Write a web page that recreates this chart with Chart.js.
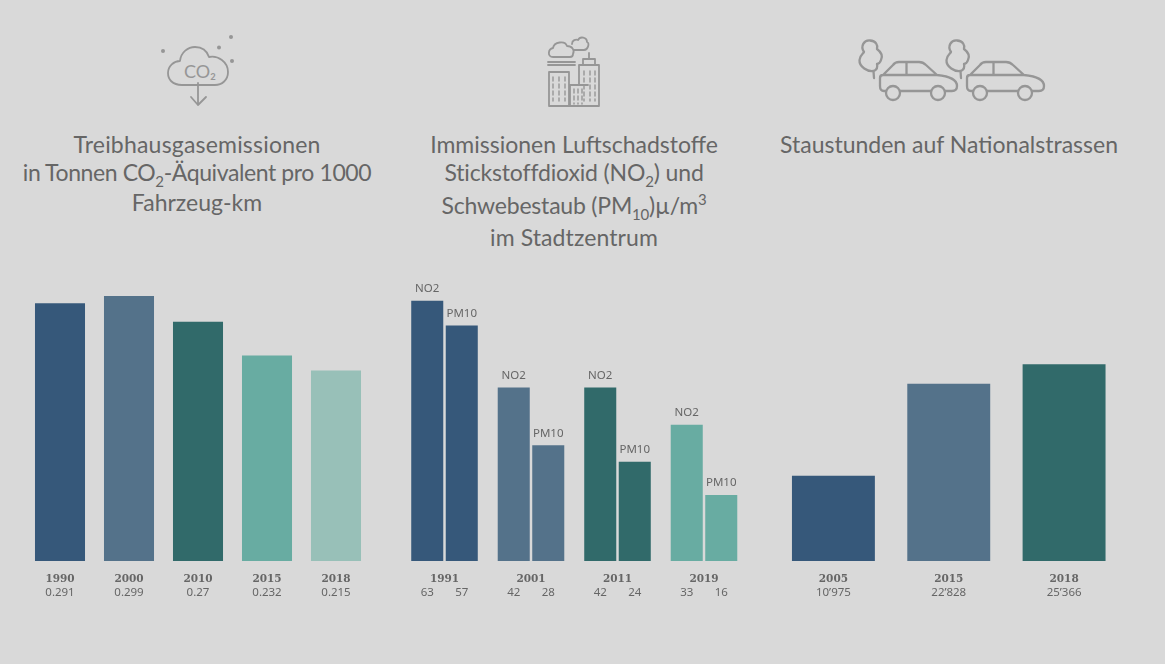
<!DOCTYPE html>
<html lang="de">
<head>
<meta charset="utf-8">
<title>Treibhausgase, Luftschadstoffe, Staustunden</title>
<script src="https://cdn.jsdelivr.net/npm/chart.js@4"></script>
<style>
  html, body { margin: 0; padding: 0; background: #d9d9d9; }
  #page { position: relative; width: 1165px; height: 664px; overflow: hidden; background: #d9d9d9; }
  canvas { position: absolute; top: 280px; }
  svg { position: absolute; left: 0; top: 0; }
  .line { position: absolute; width: 400px; text-align: center; white-space: nowrap; color: #666; font: 23px/30px Lato, sans-serif; }
  .line sub, .line sup { font-size: 15px; line-height: 0; }
</style>
</head>
<body>
<div id="page">
  <svg width="1165" height="664" fill="none" stroke="#969696" stroke-width="1.8" stroke-linecap="round" stroke-linejoin="round">
    <!-- CO2 -->
    <path d="M182 85 C172 85 168 79 168 73 C168 66 174 61 180 61 C181 52 188 47 195 47 C202 47 207 51 209 57 C218 55 228 62 228 72 C228 80 222 85 215 85 Z"/>
    <path d="M198 83 V105 M191 97 L198 105 L206 97"/>
    <g fill="#969696" stroke="none">
      <circle cx="163" cy="51" r="2"/><circle cx="219" cy="47.500" r="2"/><circle cx="231" cy="37" r="2"/><circle cx="232" cy="61" r="2"/>
      <text x="200" y="78" text-anchor="middle" font-family="Lato" font-size="18">CO₂</text>
    </g>
    <!-- Stadt -->
    <path d="M553 57 C547 57 548 49 553 48 C554 42 565 40 567 46 C572 46 575 50 573 54 C573 56 572 57 570 57 Z"/>
    <path d="M572 44 C572 40 576 39 578 40 C580 36 587 37 587 42 C590 43 588 50 584 50 H574"/>
    <path d="M548 62 H575 M548 65 H575"/>
    <path d="M569 106 H549 V72 H569 V106 M579 85 V65 H599 V106 H570 V85 H588 M583 65 V59 H595 V65 M589 59 V53"/>
    <path d="M574 89 V104 M578 89 V104 M582 89 V104 M553 77 V101 M559 77 V101 M565 77 V101 M584 71 V101 M590 71 V101 M595 71 V101" stroke-dasharray="4 3" stroke-width="1.4"/>
    <!-- Autos -->
    <g id="car" stroke-width="2.300">
      <circle cx="893" cy="93" r="7"/><circle cx="938" cy="93" r="7"/>
      <path d="M886 91 H884 Q880 91 880 86 V78 Q880 75 883 75 L893 65 Q895 62 899 62 H919 Q923 62 926 65 L937 75 Q957 77 957 86 Q957 91 952 91 H945 M900 91 H931 M883 75 H937 M906.500 62 V75"/>
      <path d="M874 78 L873.500 71 C868 72 859 67 859.500 60 C860 55 863 54 864 52 C860 46 864 40 870 40.500 C876 41 878 45 877 49 C881 52 883 56 881 60 C880 63 878 64 877 64 C878 68 876 70 874 71"/>
    </g>
    <use href="#car" x="87"/>
  </svg>

  <canvas id="chartEmissions" width="346" height="330" style="left:25px"></canvas>
  <canvas id="chartImmissions" width="347" height="330" style="left:401px"></canvas>
  <canvas id="chartStau" width="348" height="330" style="left:775px"></canvas>

  <div class="line" style="left:-3px;top:129px;letter-spacing:.2px">Treibhausgasemissionen</div>
  <div class="line" style="left:-3px;top:157px;letter-spacing:-.4px">in Tonnen CO<sub>2</sub>-Äquivalent pro 1000</div>
  <div class="line" style="left:-3px;top:187px">Fahrzeug-km</div>

  <div class="line" style="left:374px;top:129px">Immissionen Luftschadstoffe</div>
  <div class="line" style="left:374px;top:157px;letter-spacing:-.15px">Stickstoffdioxid (NO<sub>2</sub>) und</div>
  <div class="line" style="left:374px;top:190px;letter-spacing:-.2px">Schwebestaub (PM<sub>10</sub>)µ/m<sup>3</sup></div>
  <div class="line" style="left:374px;top:222px;letter-spacing:.1px">im Stadtzentrum</div>

  <div class="line" style="left:749px;top:129px">Staustunden auf Nationalstrassen</div>
</div>

<script>
const colors = ['#36587a', '#54728a', '#316a6a', '#68aca2', '#98c0b8'];

const emissionYears = ['1990', '2000', '2010', '2015', '2018'];
const emissionValues = [0.291, 0.299, 0.27, 0.232, 0.215];
const emissionLabels = ['0.291', '0.299', '0.27', '0.232', '0.215'];

const immissionYears = ['1991', '2001', '2011', '2019'];
const no2Values = [63, 42, 42, 33];
const pm10Values = [57, 28, 24, 16];

const stauYears = ['2005', '2015', '2018'];
const stauValues = [10975, 22828, 25366];
const stauLabels = ['10’975', '22’828', '25’366'];

// eigene Beschriftung unter den Balken: Jahr fett, Wert darunter
function axisText(years, valueLabels) {
    return {
        id: 'axisText',
        afterDatasetsDraw(chart) {
            const ctx = chart.ctx;
            const x = chart.scales.x;
            ctx.save();
            ctx.textAlign = 'center';
            ctx.textBaseline = 'middle';
            ctx.fillStyle = '#666';
            ctx.font = 'bold 10.5px "DejaVu Serif"';
            years.forEach((y, i) => ctx.fillText(y, x.getPixelForValue(i), 299));
            ctx.font = '11.5px "Noto Sans"';
            if (valueLabels) {
                valueLabels.forEach((v, i) => ctx.fillText(v, x.getPixelForValue(i), 312.5));
            } else {
                chart.data.datasets.forEach((ds, d) => {
                    chart.getDatasetMeta(d).data.forEach((bar, i) => {
                        ctx.fillText(ds.data[i], bar.x, 312.5);
                        ctx.fillText(ds.label, bar.x, bar.y - 12);
                    });
                });
            }
            ctx.restore();
        }
    };
}

function barOptions(yMax, padLeft, padRight, catPct, barPct) {
    return {
        responsive: false,
        animation: false,
        layout: { padding: { left: padLeft, right: padRight, top: 0, bottom: 49 } },
        datasets: { bar: { categoryPercentage: catPct, barPercentage: barPct } },
        scales: {
            x: { display: false },
            y: { display: false, min: 0, max: yMax }
        },
        plugins: {
            legend: false,
            tooltip: { enabled: false }
        }
    };
}

new Chart(document.getElementById('chartEmissions'), {
    type: 'bar',
    data: {
        labels: emissionYears,
        datasets: [{ label: 'Tonnen CO2', data: emissionValues, backgroundColor: colors }]
    },
    options: barOptions(0.3172, 0.5, 0.5, 1, 0.725),
    plugins: [axisText(emissionYears, emissionLabels)]
});

new Chart(document.getElementById('chartImmissions'), {
    type: 'bar',
    data: {
        labels: immissionYears,
        datasets: [
            { label: 'NO2', data: no2Values, backgroundColor: colors },
            { label: 'PM10', data: pm10Values, backgroundColor: colors }
        ]
    },
    options: barOptions(68, 0.25, 0.75, 0.798, 0.928),
    plugins: [axisText(immissionYears)]
});

new Chart(document.getElementById('chartStau'), {
    type: 'bar',
    data: {
        labels: stauYears,
        datasets: [{ label: 'Staustunden', data: stauValues, backgroundColor: colors }]
    },
    options: barOptions(36210, 0.75, 1.25, 1, 0.719),
    plugins: [axisText(stauYears, stauLabels)]
});
</script>
</body>
</html>
